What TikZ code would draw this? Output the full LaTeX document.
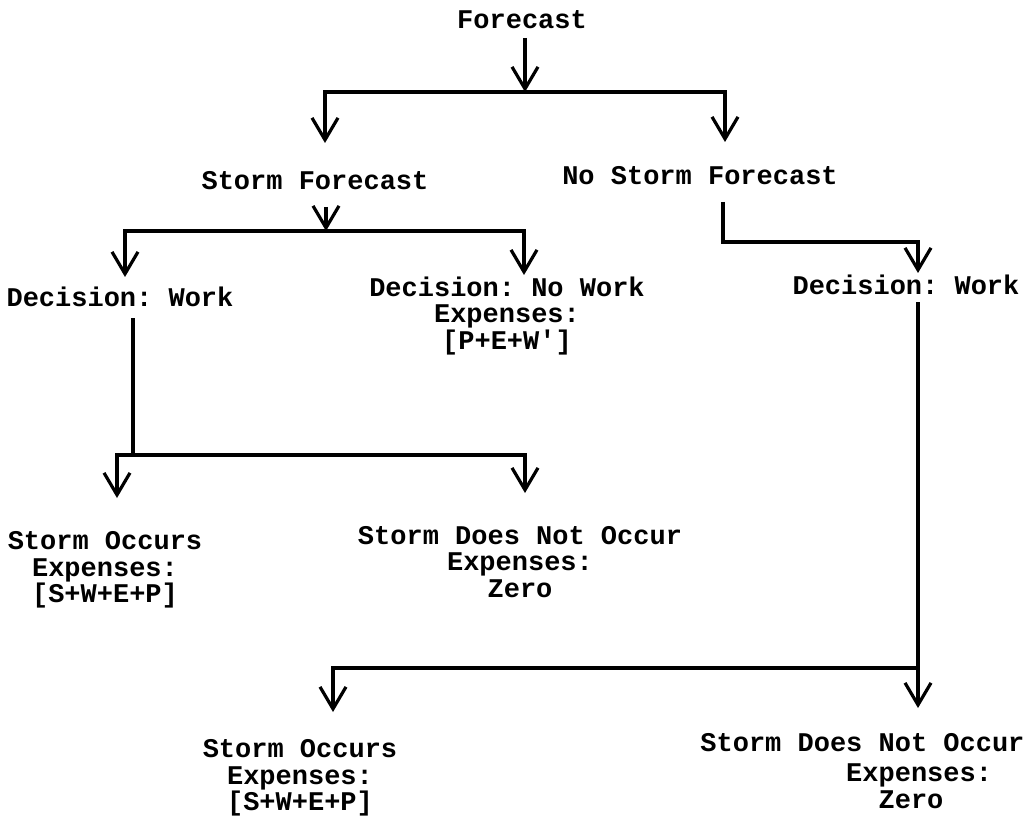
\documentclass[tikz,border=0pt]{standalone}
\usepackage{fontspec}
\setmonofont{Liberation Mono}
\usetikzlibrary{arrows.meta}
\tikzset{
    txt/.style = {font = \ttfamily\bfseries\fontsize{13.5}{13.25}\selectfont, align = center, inner sep = 0pt},
    wire/.style = {line width = 2pt, line join = miter},
    arrowwire/.style = {wire, -{Straight Barb[length = 11pt, width = 13pt, line width = 1.6pt]}}
}
\begin{document}
\begin{tikzpicture}[x = 0.5pt, y = -0.5pt]
    \useasboundingbox (0,0) rectangle (1031,823);
    % texts
    \node [txt] (fc) at (522,20) {Forecast};
    \node [txt] (sf) at (315,181) {Storm Forecast};
    \node [txt] (nsf) at (700,176) {No Storm Forecast};
    \node [txt] (dwork) at (120,297) {Decision: Work};
    \node [txt] (dnowork) at (507,316) {Decision: No Work\\Expenses:\\{[P+E+W']}};
    \node [txt] (dwork2) at (906,285) {Decision: Work};
    \node [txt] (occ1) at (105,570) {Storm Occurs\\Expenses:\\{[S+W+E+P]}};
    \node [txt] (nocc1) at (520,562) {Storm Does Not Occur\\Expenses:\\Zero};
    \node [txt] (occ2) at (300,778) {Storm Occurs\\Expenses:\\{[S+W+E+P]}};
    \node [txt, align = left, anchor = west] (nocc2) at (700,771)
        {Storm Does Not Occur\\[2pt]\hspace*{5.4em}Expenses:\\\hspace*{6.6em}Zero};
    % corners of the connectors
    \coordinate (a0) at (525,38);
    \coordinate (a1) at (525,92);
    \coordinate (a2) at (325,92);
    \coordinate (a3) at (725,92);
    \coordinate (a2t) at (325,143);
    \coordinate (a3t) at (725,142);
    \coordinate (b0) at (326,207);
    \coordinate (b1) at (326,231);
    \coordinate (b2) at (125,231);
    \coordinate (b3) at (524,231);
    \coordinate (b2t) at (125,277);
    \coordinate (b3t) at (524,275);
    \coordinate (c0) at (723,202);
    \coordinate (c1) at (723,242);
    \coordinate (c2) at (918,242);
    \coordinate (c2t) at (918,273);
    \coordinate (d0) at (133,318);
    \coordinate (d1) at (133,455);
    \coordinate (d2) at (117,455);
    \coordinate (d3) at (525,455);
    \coordinate (d2t) at (117,498);
    \coordinate (d3t) at (525,493);
    \coordinate (e0) at (918,302);
    \coordinate (e1) at (918,668);
    \coordinate (e2) at (333,668);
    \coordinate (e1t) at (918,708);
    \coordinate (e2t) at (333,712);
    % Forecast
    \draw [arrowwire] (a0) -- (a1);
    \draw [arrowwire] (a1) -- (a2) -- (a2t);
    \draw [arrowwire] (a1) -- (a3) -- (a3t);
    % Storm Forecast
    \draw [arrowwire] (b0) -- (b1);
    \draw [arrowwire] (b1) -- (b2) -- (b2t);
    \draw [arrowwire] (b1) -- (b3) -- (b3t);
    % No Storm Forecast
    \draw [arrowwire] (c0) -- (c1) -- (c2) -- (c2t);
    % Decision: Work (storm)
    \draw [wire] (d0) -- (d1);
    \draw [arrowwire] (d1) -- (d2) -- (d2t);
    \draw [arrowwire] (d1) -- (d3) -- (d3t);
    % Decision: Work (no storm)
    \draw [arrowwire] (e0) -- (e1t);
    \draw [arrowwire] (e1) -- (e2) -- (e2t);
\end{tikzpicture}
\end{document}
